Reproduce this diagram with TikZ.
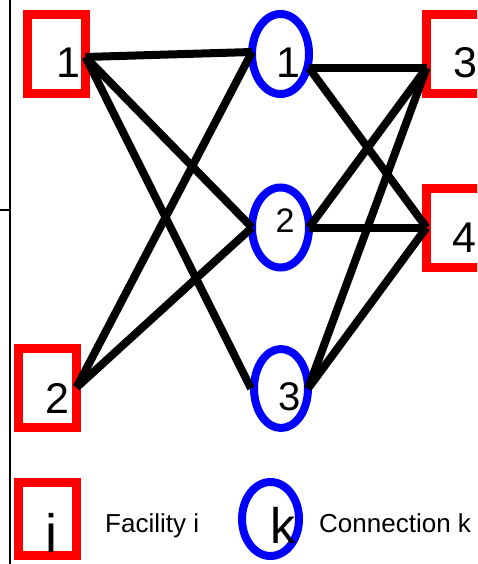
\documentclass[tikz,border=0pt]{standalone}
\usepackage{fontspec}
\setmainfont{Liberation Sans}
\usetikzlibrary{shapes.geometric}
\begin{document}
\begin{tikzpicture}[x=1pt,y=-1pt,
  fac/.style={draw=red,line width=9pt,rectangle,minimum width=58pt,minimum height=79pt,inner sep=0pt,outer sep=0pt},
  con/.style={draw=blue,line width=8pt,ellipse,minimum width=57pt,minimum height=80pt,inner sep=0pt,outer sep=0pt},
  lbl/.style={anchor=base,inner sep=0pt,font=\fontsize{43}{43}\selectfont},
  link/.style={line width=8pt},
  frame/.style={line width=2.5pt},
  legtxt/.style={anchor=base west,inner sep=0pt,font=\fontsize{26}{26}\selectfont}]
\useasboundingbox (0,0) rectangle (477,564);
\clip (0,0) rectangle (477,564);
\coordinate (ft) at (10,0);
\coordinate (fb) at (10,564);
\coordinate (tl) at (0,210);
\coordinate (tr) at (10,210);
\draw[frame] (ft) -- (fb);
\draw[frame] (tl) -- (tr);
% facilities
\node[fac] (f1) at (56.5,54) {};
\node[fac] (f2) at (47.5,387.5) {};
\node[fac] (f3) at (455.5,54) {};
\node[fac] (f4) at (455.5,227.5) {};
% connections
\node[con] (c1) at (280.5,54) {};
\node[con] (c2) at (280.5,227.5) {};
\node[con,minimum width=54pt,minimum height=79pt] (c3) at (281,388.5) {};
% legend
\node[fac,minimum height=73pt] (lf) at (47.5,519) {};
\node[con,minimum height=74pt] (lc) at (270.5,519) {};
% links
\draw[link] ([yshift=-3pt]f1.east) -- ([yshift=2pt]c1.west);
\draw[link] ([yshift=-3pt]f1.east) -- (c2.west);
\draw[link] ([yshift=-3pt]f1.east) -- ([xshift=-3pt]c3.west);
\draw[link] (f2.east) -- ([yshift=2pt]c1.west);
\draw[link] (f2.east) -- (c2.west);
\draw[link] ([yshift=-14pt]c1.east) -- ([yshift=-14pt]f3.west);
\draw[link] ([yshift=-14pt]c1.east) -- (f4.west);
\draw[link] (c2.east) -- ([yshift=-14pt]f3.west);
\draw[link] (c2.east) -- (f4.west);
\draw[link] (c3.east) -- ([yshift=-14pt]f3.west);
\draw[link] (c3.east) -- (f4.west);
% labels
\node[lbl] (f1t) at (68.5,78) {1};
\node[lbl] (f2t) at (57.5,413) {2};
\node[lbl] (f3t) at (465,78) {3};
\node[lbl] (f4t) at (464,252) {4};
\node[lbl] (c1t) at (288.5,78) {1};
\node[lbl,font=\fontsize{34}{34}\selectfont] (c2t) at (285,232) {2};
\node[lbl,font=\fontsize{40}{40}\selectfont] (c3t) at (290,410) {3};
\node[lbl,font=\fontsize{54}{54}\selectfont] (lft) at (51.5,552) {i};
\node[lbl,font=\fontsize{50}{50}\selectfont] (lct) at (282.5,543) {k};
\node[legtxt] (lfl) at (105,532) {Facility i};
\node[legtxt] (lcl) at (319,532) {Connection k};
\end{tikzpicture}
\end{document}
